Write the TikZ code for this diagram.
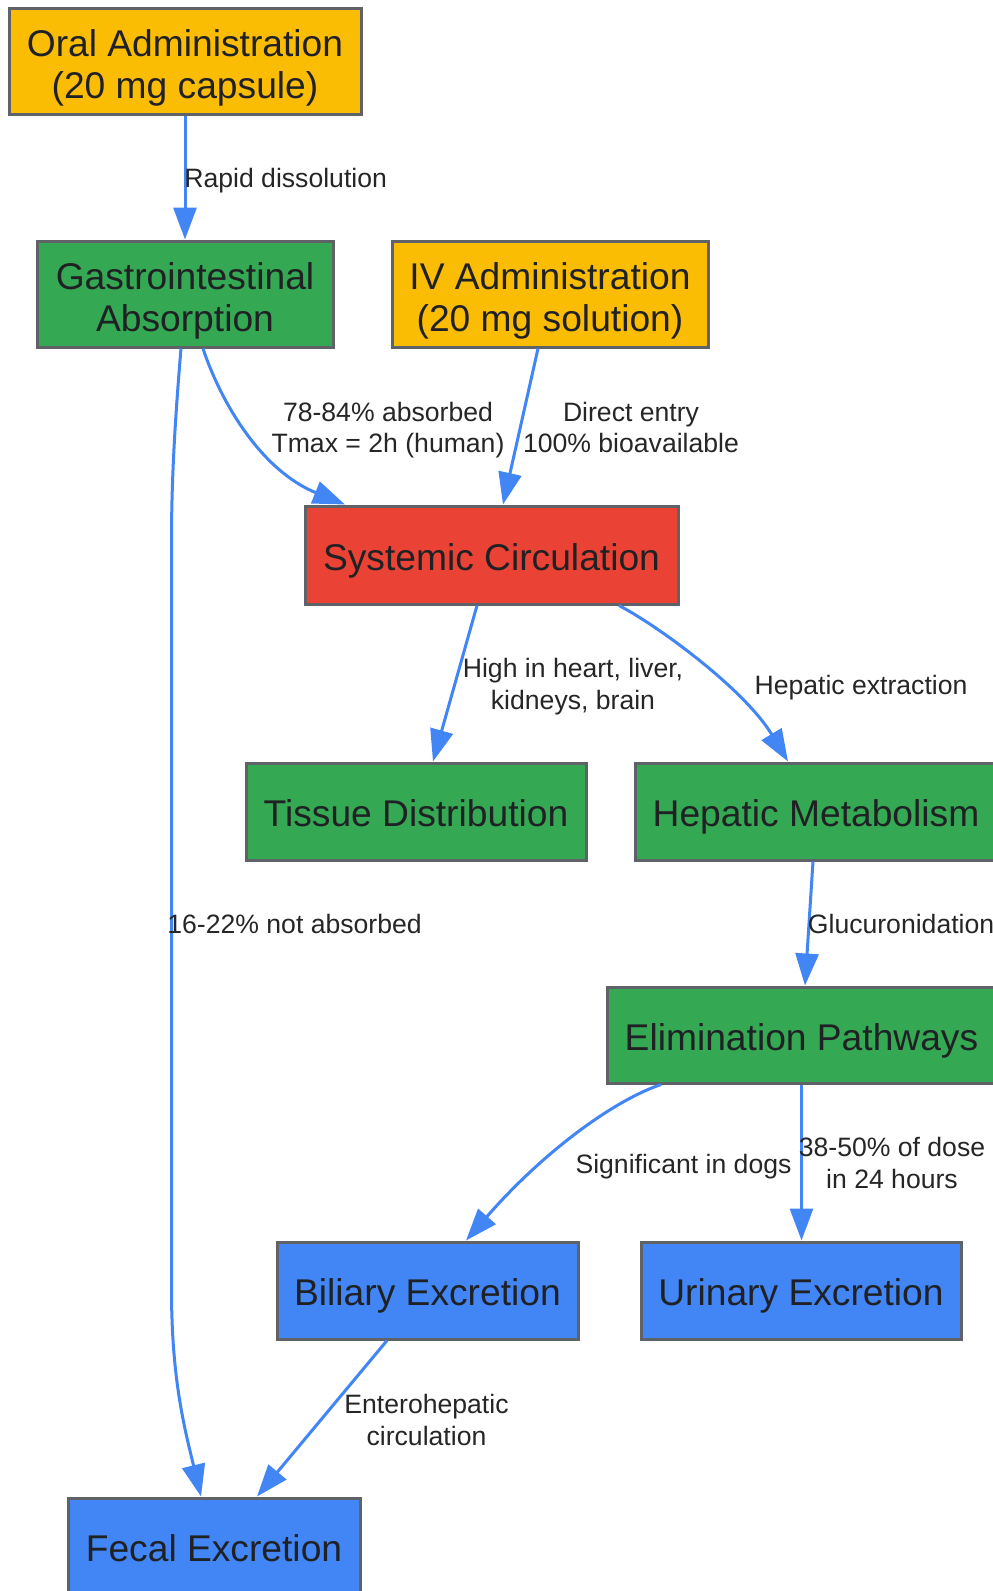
\documentclass[tikz,border=0pt]{standalone}
\usepackage{fontspec}
\setmainfont{Liberation Sans}
\usetikzlibrary{arrows.meta}
\definecolor{orangefill}{HTML}{FBBC04}
\definecolor{greenfill}{HTML}{34A853}
\definecolor{redfill}{HTML}{EA4335}
\definecolor{bluefill}{HTML}{4285F4}
\definecolor{bordergray}{HTML}{5F6368}
\definecolor{txt}{HTML}{202124}
\definecolor{lbltxt}{HTML}{262626}
\definecolor{edgeblue}{HTML}{4285F4}
\begin{document}
\begin{tikzpicture}[x=0.5pt,y=-0.5pt,
  box/.style={draw=bordergray, line width=1.5pt, inner sep=0pt, text=txt, align=center,
    font=\fontsize{18.6}{20.9}\selectfont},
  oneline/.style={text height=15.3pt, text depth=0pt},
  twoline/.style={text height=37pt, text depth=0pt},
  lbl/.style={text=lbltxt, inner sep=0pt, align=center, text depth=0pt,
    font=\fontsize{13.3}{15.7}\selectfont},
  lblone/.style={lbl, text height=10pt},
  edge/.style={draw=edgeblue, line width=1.5pt, -{Triangle[length=16pt,width=11.5pt]}}]
\fill[white] (0,0) rectangle (992,1591);
\useasboundingbox (0,0) rectangle (992,1591);

% nodes
\node[box, twoline, fill=orangefill, minimum width=176pt, minimum height=53pt] (oral) at (185,61) {Oral Administration\\(20 mg capsule)};
\node[box, twoline, fill=greenfill, minimum width=148pt, minimum height=53pt] (gastro) at (185,294) {Gastrointestinal\\Absorption};
\node[box, twoline, fill=orangefill, minimum width=158pt, minimum height=53pt] (iv) at (550,294) {IV Administration\\(20 mg solution)};
\node[box, oneline, fill=redfill, minimum width=186.5pt, minimum height=49pt] (sys) at (491.5,555) {Systemic Circulation};
\node[box, oneline, fill=greenfill, minimum width=170pt, minimum height=48.5pt] (tissue) at (416,811.5) {Tissue Distribution};
\node[box, oneline, fill=greenfill, minimum width=181pt, minimum height=48.5pt] (hep) at (816,811.5) {Hepatic Metabolism};
\node[box, oneline, fill=greenfill, minimum width=194.5pt, minimum height=48pt] (elim) at (801.5,1035) {Elimination Pathways};
\node[box, oneline, fill=bluefill, minimum width=150.5pt, minimum height=48.5pt] (bil) at (427.5,1290.5) {Biliary Excretion};
\node[box, oneline, fill=bluefill, minimum width=160pt, minimum height=48.5pt] (uri) at (801,1290.5) {Urinary Excretion};
\node[box, oneline, fill=bluefill, minimum width=146pt, minimum height=48.5pt] (fec) at (214,1546.5) {Fecal Excretion};

% edges
\draw[edge] (oral.south) -- (gastro.north);
\draw[edge] ([xshift=9pt]gastro.south) .. controls (220,400) and (260,470) .. ([xshift=-73.25pt]sys.north);
\draw[edge] ([xshift=-6pt]iv.south) -- ([xshift=5.75pt]sys.north);
\draw[edge] ([xshift=-2pt]gastro.south) .. controls (175,420) and (171.5,480) .. (171.5,540) -- (171.5,1290) .. controls (171.5,1380) and (185,1430) .. ([xshift=-6.5pt]fec.north);
\draw[edge] ([xshift=-7.25pt]sys.south) -- ([xshift=8.5pt]tissue.north);
\draw[edge] ([xshift=63.75pt]sys.south) .. controls (660,627) and (745,690) .. ([xshift=-14pt]hep.north);
\draw[edge] ([xshift=-1.5pt]hep.south) -- ([xshift=1.75pt]elim.north);
\draw[edge] ([xshift=-70.25pt]elim.south) .. controls (615,1100) and (545,1150) .. ([xshift=19.25pt]bil.north);
\draw[edge] (elim.south) -- (elim.south |- uri.north);
\draw[edge] ([xshift=-20.25pt]bil.south) -- ([xshift=21.5pt]fec.north);

% edge labels
\node[lblone, anchor=west] (l1) at (184,177.5) {Rapid dissolution};
\node[lbl] (l2) at (388,427.5) {78-84\% absorbed\\Tmax = 2h (human)};
\node[lbl] (l3) at (631,427.5) {Direct entry\\100\% bioavailable};
\node[lblone, anchor=west] (l4) at (167,923) {16-22\% not absorbed};
\node[lbl] (l5) at (573,684) {High in heart, liver,\\kidneys, brain};
\node[lblone] (l6) at (861,684) {Hepatic extraction};
\node[lblone, anchor=west] (l7) at (807.5,923) {Glucuronidation};
\node[lblone] (l8) at (683.5,1163.5) {Significant in dogs};
\node[lbl] (l9) at (892,1163) {38-50\% of dose\\in 24 hours};
\node[lbl] (l10) at (426.5,1420) {Enterohepatic\\circulation};
\end{tikzpicture}
\end{document}
